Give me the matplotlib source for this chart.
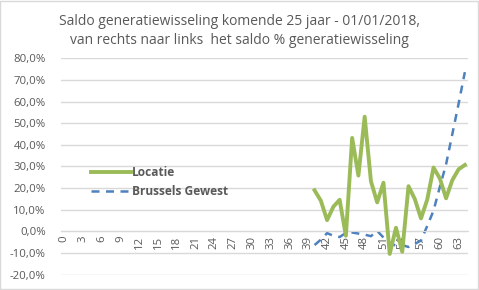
import numpy as np
import matplotlib.pyplot as plt
from matplotlib.ticker import FuncFormatter, FixedLocator

plt.rcParams["font.family"] = ["Open Sans", "DejaVu Sans"]

title = ("Saldo generatiewisseling komende 25 jaar - 01/01/2018,\n"
         "van rechts naar links  het saldo % generatiewisseling")
categories = list(range(0, 65))
start_cat = 40
locatie = [19.0, 14.2, 5.2, 11.4, 14.6, -2.0, 43.2, 25.8, 53.0, 23.2, 13.4,
           22.5, -10.4, 1.7, -9.4, 20.9, 15.0, 6.0, 14.8, 29.5, 24.5, 15.3,
           23.7, 28.7, 30.7]
brussels = [-6.3, -3.8, -0.8, -2.0, -2.6, -0.7, -0.5, -1.0, -1.5, -2.2, 0.2,
            -2.8, -5.5, -6.6, -6.3, -7.2, -5.8, -4.2, 2.6, 9.6, 20.5, 31.0,
            45.0, 59.0, 73.6]

grey = "#595959"
x = np.arange(len(categories))
loc_full = np.full(len(categories), np.nan)
bru_full = np.full(len(categories), np.nan)
loc_full[start_cat:] = np.array(locatie) / 100
bru_full[start_cat:] = np.array(brussels) / 100

fig = plt.figure(figsize=(4.79, 2.90), dpi=100)
ax = fig.add_axes([0.1273, 0.0528, 0.8497, 0.7462])

ax.plot(x, loc_full, color="#9bbb59", lw=2.8, label="Locatie",
        solid_joinstyle="round", zorder=3)
ax.plot(x, bru_full, color="#4f81bd", lw=1.8, ls=(0, (3.2, 2.6)),
        label="Brussels Gewest", zorder=2)

ax.set_xlim(-0.5, 64.5)
ax.set_ylim(-0.2, 0.8)
ax.yaxis.set_major_locator(FixedLocator(np.arange(-0.2, 0.81, 0.1)))
ax.yaxis.set_major_formatter(
    FuncFormatter(lambda v, p: f"{v*100:.1f}%".replace(".", ",")))
ax.set_xticks(x[::3])
ax.set_xticklabels([str(c) for c in categories[::3]])
ax.grid(axis="y", color="#d9d9d9", lw=1)
ax.set_axisbelow(True)
for s in ["top", "right", "left"]:
    ax.spines[s].set_visible(False)
ax.spines["bottom"].set_position(("data", 0))
ax.spines["bottom"].set_color("#d9d9d9")
ax.tick_params(axis="both", length=0, colors=grey, labelsize=8.2)
ax.tick_params(axis="x", pad=3, labelrotation=90)
ax.tick_params(axis="y", pad=11)

ax.legend(loc="center left", bbox_to_anchor=(0.168, 0.372), bbox_transform=fig.transFigure,
          frameon=False, handlelength=3.3, handletextpad=0.1, labelspacing=0.55,
          prop={"size": 8.6, "weight": "bold"}, labelcolor=grey)

fig.text(0.5, 0.893, title, ha="center", va="center", fontsize=10,
         color=grey, linespacing=1.3)

fig.patches.append(plt.Rectangle((0.001, 0.002), 0.996, 0.994, transform=fig.transFigure,
                                 fill=False, edgecolor="#d9d9d9", lw=1))
fig.savefig("out.png", dpi=100, facecolor="white")
